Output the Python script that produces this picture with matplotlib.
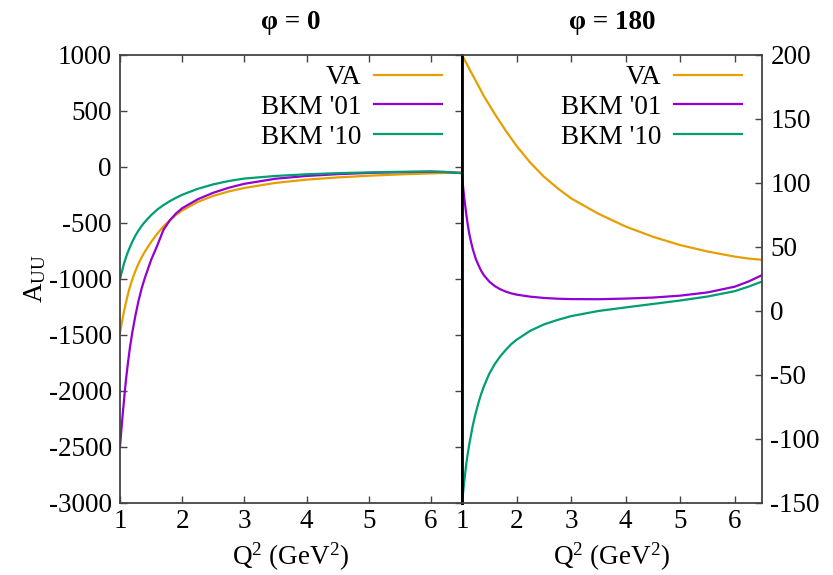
import numpy as np
import matplotlib
matplotlib.use("Agg")
import matplotlib.pyplot as plt

# Q^2 grid (GeV^2) shared by all curves
q2 = [1.0, 1.02, 1.04, 1.06, 1.08, 1.1, 1.13, 1.16, 1.2, 1.25, 1.3, 1.35,
      1.4, 1.5, 1.6, 1.7, 1.8, 1.9, 2.0, 2.25, 2.5, 2.75, 3.0, 3.5, 4.0,
      4.5, 5.0, 5.5, 6.0, 6.25, 6.5]

# phi = 0 panel
va_phi0 = [-1480, -1420, -1360, -1300, -1250, -1200, -1130, -1070, -1000,
           -925, -860, -805, -755, -670, -595, -530, -475, -428, -388, -312,
           -258, -218, -187, -142, -113, -93, -78, -66, -57, -53, -49]
bkm01_phi0 = [-2500, -2360, -2230, -2110, -1990, -1880, -1740, -1610, -1470,
              -1320, -1190, -1080, -990, -830, -700, -560, -478, -415, -368,
              -288, -230, -185, -150, -105, -80, -64, -53, -46, -42, -45, -55]
bkm10_phi0 = [-1000, -955, -915, -870, -835, -800, -755, -715, -665, -610,
              -565, -525, -490, -430, -380, -340, -305, -275, -248, -195,
              -155, -125, -103, -80, -65, -55, -48, -43, -40, -45, -55]

# phi = 180 panel
va_phi180 = [200, 198.5, 197, 195, 193.5, 192, 189.5, 187, 184, 180, 176,
             172, 168, 161, 154, 147.5, 141, 135, 129, 116, 105, 96, 88, 76,
             66, 58, 51.5, 46.5, 42.5, 41, 40]
bkm01_phi180 = [105, 97, 89, 82, 75, 69, 61, 55, 48, 41, 36, 31.5, 28, 23,
                19.5, 17, 15.2, 13.8, 12.8, 11.2, 10.2, 9.6, 9.3, 9.2, 9.7,
                10.5, 12, 14.5, 19, 23, 28]
bkm10_phi180 = [-150, -142, -134, -126, -119, -113, -105, -98, -89, -80, -72,
                -65, -59, -49, -41.5, -35.5, -30.5, -26, -22.5, -15.5, -10.5,
                -7, -4, 0, 2.8, 5.5, 8.2, 11.3, 15.5, 19, 23]

labels = ["VA", "BKM '01", "BKM '10"]
colors = ["#e69f00", "#9400d3", "#009e73"]

plt.rcParams["font.family"] = ["Liberation Serif", "DejaVu Serif"]
plt.rcParams["mathtext.fontset"] = "custom"
plt.rcParams["mathtext.rm"] = "Liberation Serif"
plt.rcParams["mathtext.it"] = "Liberation Serif:italic"
plt.rcParams["mathtext.bf"] = "Liberation Serif:bold"
plt.rcParams["axes.unicode_minus"] = False
fs = 19.5

fig = plt.figure(figsize=(8.33, 5.75), dpi=100)
ax1 = fig.add_axes([120 / 833, 1 - 503 / 575, 342 / 833, 448 / 575])
ax2 = fig.add_axes([462 / 833, 1 - 503 / 575, 300 / 833, 448 / 575])

panels = [
    (ax1, [va_phi0, bkm01_phi0, bkm10_phi0], (-3000, 1000), 500, "φ = 0"),
    (ax2, [va_phi180, bkm01_phi180, bkm10_phi180], (-150, 200), 50, "φ = 180"),
]

for ax, series, ylim, ystep, title in panels:
    for vals, lab, col in zip(series, labels, colors):
        ax.plot(q2, vals, color=col, lw=1.6, label=lab)
    ax.set_xlim(1, 6.5)
    ax.set_ylim(*ylim)
    ax.set_xticks(np.arange(1, 7))
    ax.set_yticks(np.arange(ylim[0], ylim[1] + 1, ystep))
    ax.tick_params(direction="in", length=5, width=1, colors="#444444",
                   labelcolor="black", labelsize=fs, top=True)
    ax.tick_params(axis="x", pad=4)
    ax.set_title(title, fontsize=fs, fontweight="bold", pad=19)
    ax.set_xlabel("Q$^2$ (GeV$^2$)", fontsize=fs, labelpad=5)
    for sp in ax.spines.values():
        sp.set_color("#444444")
        sp.set_linewidth(1.3)
    ax.legend(loc="upper right", bbox_to_anchor=(1.0, 1.023), frameon=False,
              fontsize=fs, markerfirst=False, handlelength=2.5,
              handletextpad=0.45, labelspacing=0.18, borderaxespad=0.55,
              borderpad=0.2)

ax1.tick_params(axis="y", left=True, right=True, pad=6)
ax1.set_ylabel("A$_{\\mathrm{UU}}$", fontsize=fs, labelpad=0)
ax2.tick_params(axis="y", left=False, right=True, labelleft=False,
                labelright=True, pad=6)

# heavier divider between the two panels
ax1.spines["right"].set_color("black")
ax1.spines["right"].set_linewidth(2)
ax2.spines["left"].set_color("black")
ax2.spines["left"].set_linewidth(2)

fig.savefig("out.png", dpi=100)
